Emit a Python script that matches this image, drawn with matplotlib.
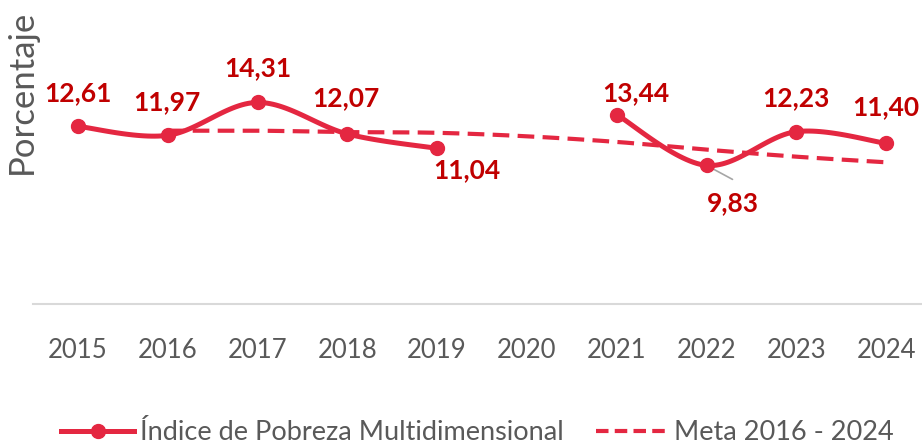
import matplotlib
matplotlib.use("Agg")
import matplotlib.pyplot as plt
from matplotlib.lines import Line2D
import numpy as np

years = ["2015", "2016", "2017", "2018", "2019", "2020", "2021", "2022", "2023", "2024"]
ipm = [12.61, 11.97, 14.31, 12.07, 11.04, None, 13.44, 9.83, 12.23, 11.40]
meta = [None, 12.30, 12.30, 12.20, 12.15, 11.90, 11.50, 10.95, 10.45, 10.05]

# label offsets in pixels (dx, dy) relative to the point
label_off = [(0, 33), (-1, 33), (0, 34), (-1, 36), (30, -22), None, (19, 22), (26, -38), (0, 34), (0, 36)]

RED = "#E42741"
DARK = "#C00000"
GRAY = "#595959"

plt.rcParams['font.family'] = ['Lato', 'DejaVu Sans']


def smooth(xs, ys, n=30):
    # excel-like smoothed line (catmull-rom bezier)
    pts = np.column_stack([xs, ys]).astype(float)
    out = []
    for i in range(len(pts) - 1):
        p0 = pts[i - 1] if i > 0 else pts[i]
        p1 = pts[i]
        p2 = pts[i + 1]
        p3 = pts[i + 2] if i + 2 < len(pts) else pts[i + 1]
        c1 = p1 + (p2 - p0) / 6
        c2 = p2 - (p3 - p1) / 6
        t = np.linspace(0, 1, n)[:, None]
        seg = (1 - t) ** 3 * p1 + 3 * (1 - t) ** 2 * t * c1 + 3 * (1 - t) * t ** 2 * c2 + t ** 3 * p2
        out.append(seg)
    s = np.vstack(out)
    return s[:, 0], s[:, 1]


def runs(vals):
    res, cur = [], []
    for i, v in enumerate(vals):
        if v is None:
            if cur:
                res.append(cur)
            cur = []
        else:
            cur.append(i)
    if cur:
        res.append(cur)
    return res


fig = plt.figure(figsize=(9.22, 4.47), dpi=100)
ax = fig.add_axes([33 / 922, 1 - 303.5 / 447, 898 / 922, 421.5 / 447])
ax.set_xlim(-0.5, 9.5)
ax.set_ylim(0, 30)

# meta (dashed)
for r in runs(meta):
    sx, sy = smooth(r, [meta[i] for i in r])
    ax.plot(sx, sy, color=RED, lw=3, dashes=(4, 2), solid_capstyle='butt', zorder=2)

# indice
for r in runs(ipm):
    sx, sy = smooth(r, [ipm[i] for i in r])
    ax.plot(sx, sy, color=RED, lw=3.6, zorder=3, solid_capstyle='round')
    ax.plot(r, [ipm[i] for i in r], 'o', color=RED, ms=10, zorder=4)

for i, v in enumerate(ipm):
    if v is None:
        continue
    dx, dy = label_off[i]
    txt = f"{v:.2f}".replace('.', ',')
    if i == 7:
        ax.annotate("", xy=(i, v), xytext=(26, -14), textcoords='offset pixels',
                    arrowprops=dict(arrowstyle='-', color='#A6A6A6', lw=1.2, shrinkA=0, shrinkB=0), zorder=3)
    ax.annotate(txt, xy=(i, v), xytext=(dx, dy), textcoords='offset pixels',
                ha='center', va='center', fontsize=19, fontweight='bold', color=DARK, zorder=5)

ax.set_xticks(range(len(years)))
ax.set_xticklabels(years)
ax.tick_params(axis='x', length=0, pad=25, labelsize=18.5, labelcolor=GRAY)
ax.set_yticks([])
for s in ['top', 'left', 'right']:
    ax.spines[s].set_visible(False)
ax.spines['bottom'].set_color('#D9D9D9')
ax.spines['bottom'].set_linewidth(1.5)

fig.text(22 / 922, 1 - 92 / 447, "Porcentaje", rotation=90, ha='center', va='center',
         fontsize=25, color=GRAY)

h1 = Line2D([], [], color=RED, lw=3.6, marker='o', ms=10)
h2 = Line2D([], [], color=RED, lw=3, dashes=(3, 1.5))
fig.legend([h1, h2], ["Índice de Pobreza Multidimensional", "Meta 2016 - 2024"],
           loc='center', bbox_to_anchor=(0.518, 1 - 433 / 447), ncol=2, frameon=False,
           fontsize=19.5, labelcolor=GRAY, handlelength=2.7, handletextpad=0.2, columnspacing=1.2)

fig.savefig("out.png", dpi=100)
